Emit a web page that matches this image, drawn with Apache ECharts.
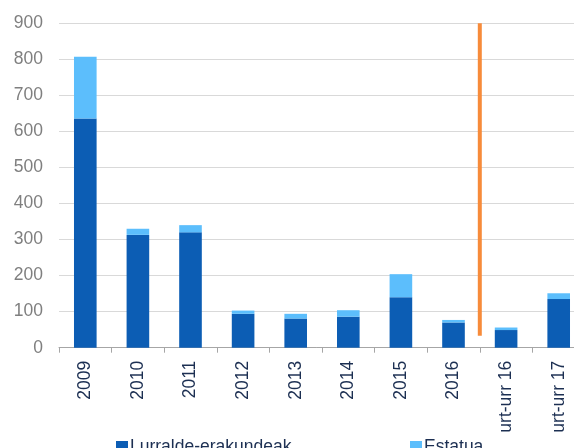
<!DOCTYPE html>
<html>
<head>
<meta charset="utf-8">
<script src="https://cdn.jsdelivr.net/npm/echarts@6/dist/echarts.min.js"></script>
<style>html,body{margin:0;padding:0;background:#fff;}#c{width:574px;height:448px;}</style>
</head>
<body>
<div id="c"></div>
<script>
var categories = ['2009','2010','2011','2012','2013','2014','2015','2016','urt-urr 16','urt-urr 17'];
var lurralde = [636, 313, 320, 94, 81, 86, 140, 70, 49, 135];
var estatua = [171, 17, 20, 9, 13, 18, 64, 7, 7, 16];
var yTicks = [0, 100, 200, 300, 400, 500, 600, 700, 800, 900];
var dividerLine = [[8, 33], [8, 900]];

var chart = echarts.init(document.getElementById('c'));
chart.setOption({
  animation: false,
  grid: {left: 59, right: -11, top: 23.3, bottom: 100.3, containLabel: false, outerBoundsMode: 'none'},
  legend: [
    {data: ['Lurralde-erakundeak'], left: 111, top: 433, itemWidth: 12, itemHeight: 12, itemGap: 4,
     icon: 'rect', textStyle: {fontFamily: 'Liberation Sans, Arial', fontSize: 17.5, color: '#1c2f52', padding: [0,0,0,-3]}},
    {data: ['Estatua'], left: 405, top: 433, itemWidth: 12, itemHeight: 12,
     icon: 'rect', textStyle: {fontFamily: 'Liberation Sans, Arial', fontSize: 17.5, color: '#1c2f52', padding: [0,0,0,-3]}}
  ],
  xAxis: [
    {type: 'category', data: categories, boundaryGap: true,
     axisLine: {show: true, lineStyle: {color: '#a6a6a6', width: 1}},
     axisTick: {show: true, length: 5, alignWithLabel: false, lineStyle: {color: '#a6a6a6'}},
     axisLabel: {rotate: 90, margin: 13, interval: 0, color: '#1c2f52', fontSize: 17.5, fontFamily: 'Liberation Sans, Arial'}},
    {type: 'value', min: 0, max: 10, show: false}
  ],
  yAxis: {type: 'value', min: 0, max: 900, interval: 100,
    axisLine: {show: false}, axisTick: {show: false},
    splitLine: {lineStyle: {color: '#d9d9d9', width: 1}},
    axisLabel: {margin: 16, color: '#7f7f7f', fontSize: 17.5, fontFamily: 'Liberation Sans, Arial',
      formatter: function (v) { return yTicks.indexOf(v) >= 0 ? String(v) : ''; }}},
  series: [
    {name: 'Lurralde-erakundeak', type: 'bar', stack: 'a', data: lurralde, barWidth: '43%',
     itemStyle: {color: '#0c5db4'}},
    {name: 'Estatua', type: 'bar', stack: 'a', data: estatua, barWidth: '43%',
     itemStyle: {color: '#5cbefc'}},
    {name: 'divider', type: 'line', xAxisIndex: 1, data: dividerLine, symbol: 'none',
     lineStyle: {color: '#f78b3a', width: 4}, silent: true}
  ]
});
</script>
</body>
</html>
